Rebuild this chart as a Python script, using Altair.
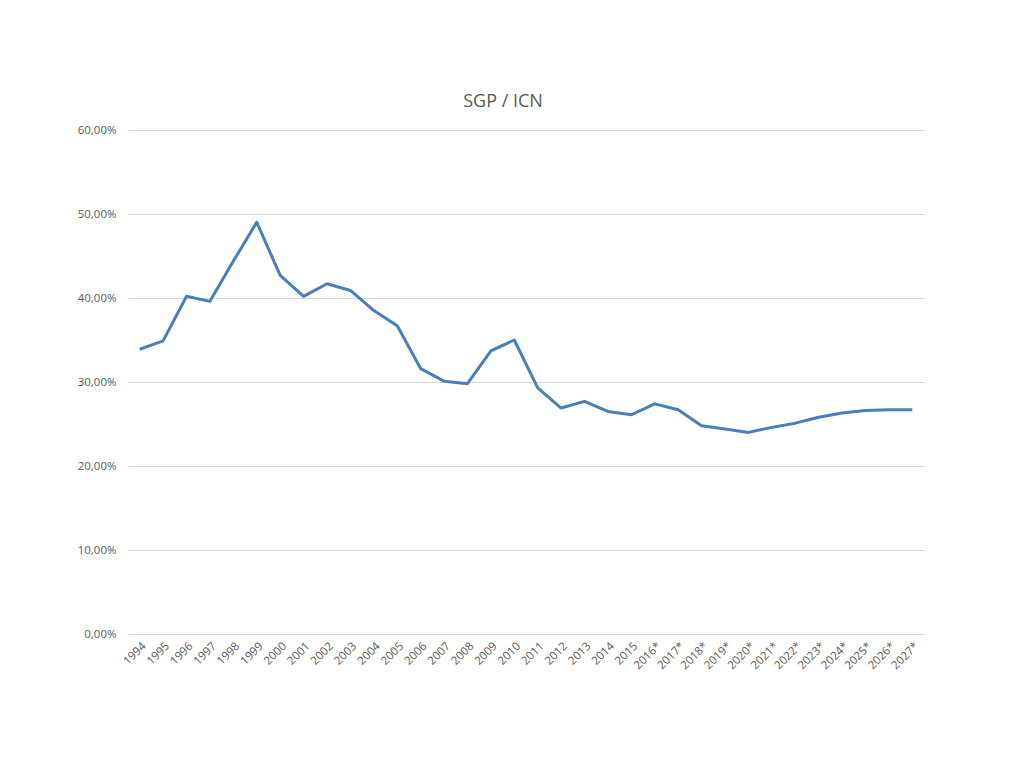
import altair as alt
import pandas as pd

years = ["1994", "1995", "1996", "1997", "1998", "1999", "2000", "2001", "2002", "2003",
         "2004", "2005", "2006", "2007", "2008", "2009", "2010", "2011", "2012", "2013",
         "2014", "2015", "2016*", "2017*", "2018*", "2019*", "2020*", "2021*", "2022*",
         "2023*", "2024*", "2025*", "2026*", "2027*"]
values_pct = [33.9, 34.9, 40.2, 39.6, 44.4, 49.0, 42.7, 40.2, 41.7, 40.9,
              38.5, 36.7, 31.6, 30.1, 29.8, 33.7, 35.0, 29.3, 26.9, 27.7,
              26.5, 26.1, 27.4, 26.7, 24.8, 24.4, 24.0, 24.6, 25.1, 25.8,
              26.3, 26.6, 26.7, 26.7]
y_ticks = [0, 0.1, 0.2, 0.3, 0.4, 0.5, 0.6]

df = pd.DataFrame({"year": years, "value": [v / 100 for v in values_pct]})

FONT = "Open Sans"
LABEL_COLOR = "#595959"

chart = alt.Chart(df).mark_line(color="#4a7ebb", strokeWidth=3, strokeJoin="round").encode(
    x=alt.X("year:N", sort=years,
            scale=alt.Scale(type="point", padding=0.5),
            axis=alt.Axis(title=None, labelAngle=-45, ticks=False, domain=False,
                          grid=False, labelPadding=6, labelFontSize=11.5,
                          labelColor=LABEL_COLOR, labelFont=FONT)),
    y=alt.Y("value:Q", scale=alt.Scale(domain=[0, 0.6], nice=False),
            axis=alt.Axis(title=None, values=y_ticks, ticks=False, domain=False,
                          gridColor="#d9d9d9", gridWidth=1,
                          labelExpr="replace(format(datum.value, '.2%'), '.', ',')",
                          labelPadding=12, labelFontSize=11.5,
                          labelColor=LABEL_COLOR, labelFont=FONT)),
).properties(
    width=796,
    height=504,
    title=alt.TitleParams("SGP / ICN", fontSize=18, font=FONT, fontWeight="normal",
                          color=LABEL_COLOR, offset=13, dx=-23, anchor="middle"),
    autosize=alt.AutoSizeParams(type="none"),
    padding={"left": 120, "top": 122, "right": 90, "bottom": 120},
).configure_view(stroke=None)

chart.save("out.html", embed_options={"renderer": "svg", "actions": False})
